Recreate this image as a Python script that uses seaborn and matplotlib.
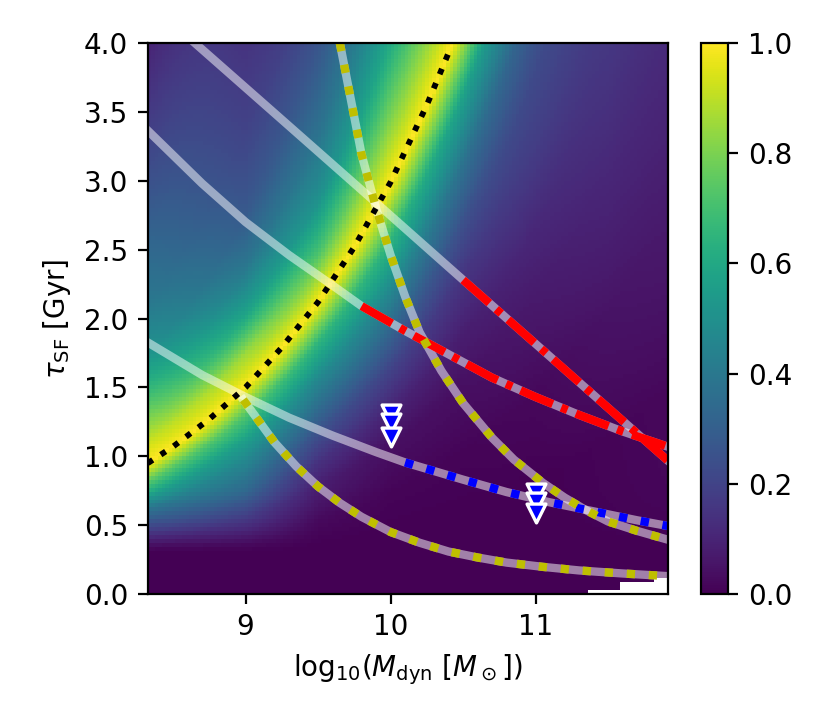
import numpy as np
import matplotlib
matplotlib.use("Agg")
import matplotlib.pyplot as plt
import seaborn as sns

# ---------------- data ----------------
x_limits = [8.325, 11.915]
y_limits = [0.0, 4.0]
x_ticks = [9, 10, 11]
y_ticks = [0.0, 0.5, 1.0, 1.5, 2.0, 2.5, 3.0, 3.5, 4.0]
cbar_ticks = [0.0, 0.2, 0.4, 0.6, 0.8, 1.0]

# ridge of the map (black dotted line)
ridge_x = [8.326, 8.5, 8.75, 9.0, 9.25, 9.5, 9.75, 10.0, 10.25, 10.42]
ridge_y = [0.95, 1.07, 1.27, 1.50, 1.79, 2.12, 2.52, 2.99, 3.55, 3.98]

# white tracks
trackA_x = [8.32, 8.7, 9.0, 9.3, 9.6, 9.9, 10.1, 10.5, 10.8, 11.1, 11.4, 11.7, 11.91]
trackA_y = [1.83, 1.59, 1.43, 1.28, 1.15, 1.03, 0.955, 0.83, 0.74, 0.665, 0.60, 0.535, 0.494]
trackA_blue_from = 10.10

trackE_x = [8.32, 8.7, 9.0, 9.3, 9.6, 9.8, 10.1, 10.4, 10.7, 11.0, 11.3, 11.6, 11.91]
trackE_y = [3.37, 2.98, 2.70, 2.46, 2.24, 2.09, 1.91, 1.74, 1.57, 1.43, 1.30, 1.18, 1.07]
trackE_red_from = 9.80

trackD_x = [8.65, 9.2, 9.9, 10.5, 11.2, 11.91]
trackD_y = [4.0, 3.49, 2.84, 2.28, 1.63, 0.97]
trackD_red_from = 10.50

# yellow-dotted tracks
trackC_x = [9.65, 9.8, 9.9, 10.0, 10.1, 10.2, 10.35, 10.5, 10.7, 10.85,
            11.05, 11.2, 11.35, 11.5, 11.7, 11.906]
trackC_y = [4.0, 3.19, 2.80, 2.46, 2.16, 1.90, 1.62, 1.385, 1.134, 0.976,
            0.807, 0.700, 0.607, 0.526, 0.458, 0.396]

trackB_x = [8.984, 9.2, 9.35, 9.5, 9.65, 9.8, 10.0, 10.2, 10.4, 10.6, 10.8,
            11.05, 11.3, 11.6, 11.906]
trackB_y = [1.41, 1.10, 0.926, 0.78, 0.661, 0.560, 0.450, 0.372, 0.308, 0.265,
            0.228, 0.197, 0.171, 0.149, 0.130]

# upper limits (triangles)
tri_x = [10.0, 10.0, 10.0, 11.0, 11.0, 11.0]
tri_y = [1.31, 1.24, 1.14, 0.73, 0.67, 0.59]

# map values read along columns, as a function of u = ln(tau / ridge)
hm_x_knots = [8.33, 9.0, 9.5, 10.0, 10.5, 11.0, 11.5, 11.92]
hm_u_knots = [-5.0, -2.0, -1.4, -1.0, -0.8, -0.6, -0.45, -0.3, -0.15, 0.0,
              0.15, 0.3, 0.45, 0.6, 0.8, 1.0, 1.2, 1.45]
hm_col_833 = [0.0, 0.08, 0.16, 0.24, 0.29, 0.35, 0.42, 0.55, 0.74, 1.0,
              0.92, 0.80, 0.66, 0.52, 0.40, 0.32, 0.22, 0.09]
hm_col_900 = [0.0, 0.05, 0.14, 0.22, 0.29, 0.38, 0.46, 0.56, 0.72, 1.0,
              0.85, 0.58, 0.40, 0.28, 0.20, 0.14, 0.10, 0.07]
hm_col_950 = [0.0, 0.0, 0.03, 0.08, 0.14, 0.24, 0.35, 0.47, 0.65, 1.0,
              0.72, 0.50, 0.38, 0.28, 0.17, 0.10, 0.07, 0.05]
hm_col_1000 = [0.0, 0.0, 0.01, 0.04, 0.10, 0.20, 0.32, 0.47, 0.65, 1.0,
               0.80, 0.60, 0.46, 0.35, 0.25, 0.15, 0.10, 0.05]
hm_col_1050 = [0.0, 0.0, 0.01, 0.04, 0.08, 0.15, 0.24, 0.37, 0.57, 1.0,
               0.80, 0.60, 0.46, 0.35, 0.25, 0.15, 0.10, 0.05]
hm_col_1100 = [0.0, 0.0, 0.02, 0.07, 0.11, 0.18, 0.22, 0.30, 0.50, 1.0,
               0.80, 0.60, 0.46, 0.35, 0.25, 0.15, 0.10, 0.05]
hm_col_1150 = [0.0, 0.01, 0.05, 0.11, 0.15, 0.18, 0.22, 0.30, 0.50, 1.0,
               0.80, 0.60, 0.46, 0.35, 0.25, 0.15, 0.10, 0.05]
hm_col_1192 = [0.0, 0.02, 0.07, 0.12, 0.15, 0.18, 0.22, 0.30, 0.50, 1.0,
               0.80, 0.60, 0.46, 0.35, 0.25, 0.15, 0.10, 0.05]
hm_columns = [hm_col_833, hm_col_900, hm_col_950, hm_col_1000,
              hm_col_1050, hm_col_1100, hm_col_1150, hm_col_1192]

# suppression at short timescales (dark band at the bottom)
low_tau_y = [0.0, 0.30, 0.34, 0.40, 0.47, 0.55, 0.65, 0.75, 4.0]
low_tau_f = [0.0, 0.0, 0.10, 0.35, 0.60, 0.80, 0.93, 1.0, 1.0]

# empty (white) cells at bottom right: x start, upper tau edge
empty_x_from = [11.36, 11.58, 11.83]
empty_y_below = [0.03, 0.08, 0.125]

grid_nx, grid_ny = 150, 140

# ---------------- build the map ----------------
xe = np.linspace(x_limits[0], x_limits[1], grid_nx + 1)
ye = np.linspace(y_limits[0], y_limits[1], grid_ny + 1)
xc = 0.5 * (xe[1:] + xe[:-1])
yc = 0.5 * (ye[1:] + ye[:-1])
XC, YC = np.meshgrid(xc, yc)

coef = np.polyfit(ridge_x, np.log(ridge_y), 1)
R = np.exp(np.polyval(coef, XC))
U = np.log(YC / R)

rows = np.array([np.interp(U, hm_u_knots, col) for col in hm_columns])
xk = np.array(hm_x_knots)
idx = np.clip(np.searchsorted(xk, XC), 1, len(xk) - 1)
t = np.clip((XC - xk[idx - 1]) / (xk[idx] - xk[idx - 1]), 0, 1)
jj, ii = np.meshgrid(np.arange(grid_nx), np.arange(grid_ny))
Z = (1 - t) * rows[idx - 1, ii, jj] + t * rows[idx, ii, jj]
Z = Z * np.interp(YC, low_tau_y, low_tau_f)
mask = np.zeros_like(Z, dtype=bool)
for xs, yb in zip(empty_x_from, empty_y_below):
    mask |= (XC >= xs) & (YC < yb)
Z = np.ma.masked_array(Z, mask)

# ---------------- figure ----------------
W, H = 830, 727
fig = plt.figure(figsize=(W / 200, H / 200), dpi=200)
ax = fig.add_axes([147.7 / W, (H - 594) / H, 520.6 / W, 551 / H])
cax = fig.add_axes([700.7 / W, (H - 594) / H, 27.6 / W, 551 / H])

mesh = ax.pcolormesh(xe, ye, Z, cmap="viridis", vmin=0, vmax=1, shading="flat")

lw_track = 3.0
white_kw = dict(color="white", alpha=0.5, linewidth=lw_track, sort=False,
                estimator=None, ax=ax)
for tx, ty in [(trackA_x, trackA_y), (trackE_x, trackE_y), (trackD_x, trackD_y),
               (trackB_x, trackB_y), (trackC_x, trackC_y)]:
    sns.lineplot(x=tx, y=ty, **white_kw)


def part(xs, ys, x0):
    px = [a for a in xs if a >= x0]
    py = [b for a, b in zip(xs, ys) if a >= x0]
    return px, py


red_ls = (0, (4.2, 1.1, 0.8, 1.1))
bx, by = part(trackA_x, trackA_y, trackA_blue_from)
sns.lineplot(x=bx, y=by, color="blue", linewidth=lw_track, linestyle=":",
             sort=False, estimator=None, ax=ax)
rx, ry = part(trackE_x, trackE_y, trackE_red_from)
sns.lineplot(x=rx, y=ry, color="red", linewidth=lw_track, linestyle=red_ls,
             sort=False, estimator=None, ax=ax)
rx, ry = part(trackD_x, trackD_y, trackD_red_from)
sns.lineplot(x=rx, y=ry, color="red", linewidth=lw_track, linestyle=red_ls,
             sort=False, estimator=None, ax=ax)
for tx, ty in [(trackB_x, trackB_y), (trackC_x, trackC_y)]:
    sns.lineplot(x=tx, y=ty, color="y", linewidth=lw_track, linestyle=":",
                 sort=False, estimator=None, ax=ax)

sns.lineplot(x=ridge_x, y=ridge_y, color="black", linewidth=2.1, linestyle=":",
             sort=False, estimator=None, ax=ax)

sns.scatterplot(x=tri_x, y=tri_y, marker="v", s=46, color="blue",
                edgecolor="white", linewidth=1.2, ax=ax, zorder=5)

ax.set_xlim(*x_limits)
ax.set_ylim(*y_limits)
ax.set_xticks(x_ticks)
ax.set_yticks(y_ticks)
ax.set_xlabel(r"$\mathrm{log}_{10}(M_{\rm dyn}\ [M_\odot])$")
ax.set_ylabel(r"$\tau_{\rm SF}$ [Gyr]")

cb = fig.colorbar(mesh, cax=cax, ticks=cbar_ticks)

fig.savefig("out.png", dpi=200)
